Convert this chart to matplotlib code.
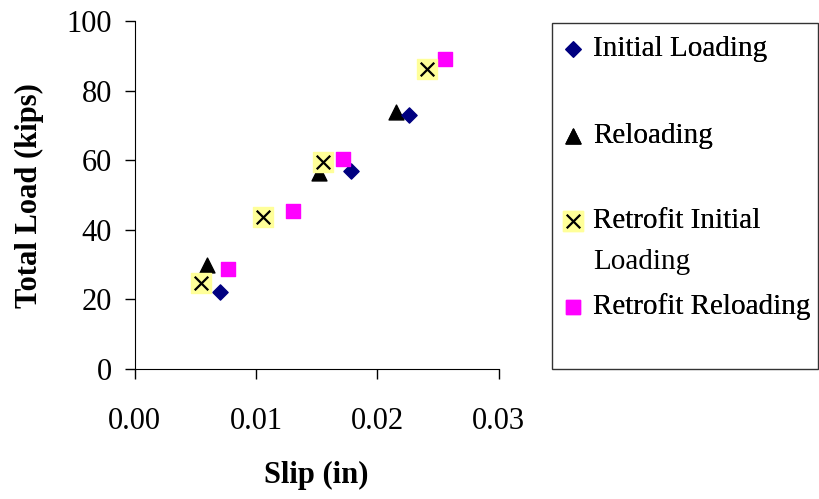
#!/usr/bin/env python3
"""Load-slip scatter: initial / reloading, original vs retrofit."""
import matplotlib
matplotlib.use("Agg")
import matplotlib.pyplot as plt
from matplotlib.patches import Rectangle

plt.rcParams["font.family"] = ["Liberation Serif", "DejaVu Serif"]

# Slip (in) and total load (kips)
init_slip = [0.00706, 0.0178, 0.02261]
init_load = [22.2, 56.9, 73.0]

reload_slip = [0.00593, 0.01516, 0.02154]
reload_load = [29.9, 56.5, 74.0]

retro_init_slip = [0.00544, 0.01055, 0.01555, 0.02407]
retro_init_load = [24.6, 43.6, 59.6, 86.2]

retro_reload_slip = [0.00772, 0.01302, 0.01714, 0.02555]
retro_reload_load = [28.8, 45.4, 60.4, 89.1]

labels = ["Initial Loading", "Reloading", "Retrofit Initial", "Retrofit Reloading"]
label_cont = "Loading"  # second line of the third entry
x_ticks = [0.0, 0.01, 0.02, 0.03]
y_ticks = [0, 20, 40, 60, 80, 100]

W, H = 820, 499
fig = plt.figure(figsize=(W / 100, H / 100), dpi=100)
ax = fig.add_axes([134.7 / W, 1 - 369 / H, 364 / W, 347.7 / H])

h1 = ax.scatter(init_slip, init_load, marker="D", s=60, color="#000080", zorder=3)
h2 = ax.scatter(reload_slip, reload_load, marker="^", s=115, color="black", zorder=2)
h3a = ax.scatter(retro_init_slip, retro_init_load, marker="s", s=210, color="#FFFF99", zorder=4)
h3b = ax.scatter(retro_init_slip, retro_init_load, marker="x", s=95, color="black",
                 linewidths=1.6, zorder=5)
h4 = ax.scatter(retro_reload_slip, retro_reload_load, marker="s", s=100, color="#FF00FF", zorder=3)

ax.set_xlim(0, 0.03)
ax.set_ylim(0, 100)
ax.set_xticks(x_ticks)
ax.set_xticklabels([f"{v:.2f}" for v in x_ticks])
ax.set_yticks(y_ticks)
ax.tick_params(labelsize=22, direction="out", length=7.5, width=1)
ax.tick_params(axis="x", pad=20)
ax.tick_params(axis="y", pad=9)
for side in ["top", "right"]:
    ax.spines[side].set_visible(False)

ax.set_xlabel("Slip (in)", fontsize=22, fontweight="bold", labelpad=18)
ax.set_ylabel("Total Load (kips)", fontsize=22, fontweight="bold", labelpad=16)

# Legend: frame box plus one entry per row, placed like the original
fig.add_artist(Rectangle((552 / W, 1 - 369 / H), 266 / W, 346 / H, transform=fig.transFigure,
                         fill=False, edgecolor="#333333", linewidth=1))
row_y = [49, 136, 221, 307]
handles = [h1, h2, (h3a, h3b), h4]
for hd, lab, y in zip(handles, labels, row_y):
    lg = fig.legend([hd], [lab], loc="center left", bbox_to_anchor=(564 / W, 1 - y / H),
                    fontsize=21, frameon=False, handlelength=0.6, handletextpad=0.4,
                    borderpad=0, borderaxespad=0)
    fig.add_artist(lg)
fig.text(593 / W, 1 - 262 / H, label_cont, fontsize=21, ha="left", va="center")

fig.savefig("out.png", dpi=100)
